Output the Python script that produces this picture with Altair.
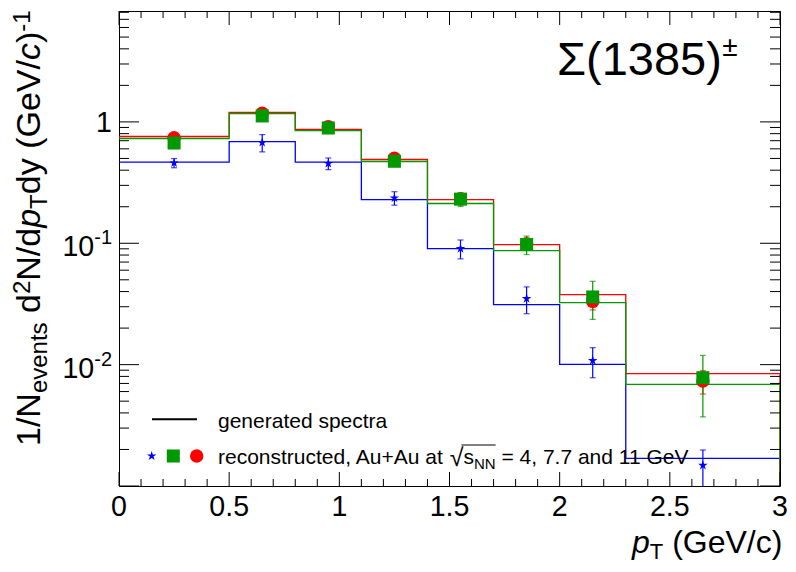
import altair as alt
import pandas as pd

FONT = "Liberation Sans"

# ---------------- data ----------------
bin_edges = [0.0, 0.5, 0.8, 1.1, 1.4, 1.7, 2.0, 2.3, 3.0]
pt_centers = [0.25, 0.65, 0.95, 1.25, 1.55, 1.85, 2.15, 2.65]

gen_red = [0.758, 1.195, 0.866, 0.490, 0.229, 0.0976, 0.0378, 0.00843]
gen_green = [0.730, 1.173, 0.849, 0.472, 0.2126, 0.0871, 0.0324, 0.00688]
gen_blue = [0.4654, 0.689, 0.4654, 0.229, 0.0904, 0.0312, 0.01006, 0.00169]

rec_red = [0.741, 1.18, 0.913, 0.502, 0.232, 0.099, 0.0332, 0.00732]
err_red = [0.01, 0.02, 0.015, 0.01, 0.006, 0.004, 0.005, 0.0016]
rec_green = [0.670, 1.12, 0.891, 0.474, 0.231, 0.0977, 0.0361, 0.00781]
err_green = [0.02, 0.03, 0.02, 0.015, 0.03, 0.017, 0.0125, 0.0041]
rec_blue = [0.459, 0.676, 0.454, 0.236, 0.0904, 0.035, 0.0108, 0.00148]
err_blue = [0.04, 0.11, 0.05, 0.03, 0.016, 0.0087, 0.003, 0.0005]

x_tick_values = [0, 0.5, 1, 1.5, 2, 2.5, 3]
x_tick_labels = ["0", "0.5", "1", "1.5", "2", "2.5", "3"]
y_tick_values = [1, 0.1, 0.01]
y_tick_base = ["1", "10", "10"]
y_tick_exp = ["", "-1", "-2"]

Y_MIN, Y_MAX = 0.001, 8.2
RED, GREEN, BLUE = "#ff0000", "#009900", "#0000ff"
STAR = ("M0,-1L0.223,-0.307L0.951,-0.309L0.361,0.117L0.588,0.809L0,0.38"
        "L-0.588,0.809L-0.361,0.117L-0.951,-0.309L-0.223,-0.307Z")

# ---------------- layout ----------------
W, H = 661, 475
PL, PT = 119, 11          # absolute position of the plot area
XS = alt.Scale(domain=[0, 3], nice=False, zero=False)
YS = alt.Scale(type="log", domain=[Y_MIN, Y_MAX], nice=False)
ONE = pd.DataFrame({"k": [0]})

AW = {" ": 278, "(": 333, ")": 333, "+": 584, ",": 278, "-": 333, ".": 278,
      "/": 278, "=": 584, "A": 667, "G": 778, "N": 722, "T": 611, "V": 667,
      "a": 556, "c": 500, "d": 556, "e": 556, "g": 556, "n": 556, "o": 556,
      "p": 556, "r": 333, "s": 500, "t": 278, "u": 556, "v": 500, "y": 500,
      "√": 549, "Σ": 604, "±": 584}


def tw(s, size):
    return sum(AW.get(ch, 556) for ch in s) * size / 1000.0


def T(s, ax, ay, size, align="left", angle=None, italic=False, color="black"):
    kw = dict(align=align, baseline="alphabetic", fontSize=size, font=FONT, color=color)
    if angle is not None:
        kw["angle"] = angle
    if italic:
        kw["fontStyle"] = "italic"
    return alt.Chart(ONE).mark_text(**kw).encode(
        x=alt.value(ax - PL), y=alt.value(ay - PT), text=alt.value(s))


layers = []

# ---------------- generated spectra (step histograms) ----------------
def step_df(vals):
    xs, ys, od = [], [], []
    o = 0
    for i, v in enumerate(vals):
        xs += [bin_edges[i], bin_edges[i + 1]]
        ys += [v, v]
        od += [o, o + 1]
        o += 2
    xs.append(bin_edges[-1]); ys.append(Y_MIN); od.append(o)
    return pd.DataFrame({"x": xs, "y": ys, "o": od})


for vals, col in [(gen_blue, BLUE), (gen_red, RED), (gen_green, GREEN)]:
    layers.append(alt.Chart(step_df(vals)).mark_line(color=col, strokeWidth=1.3, clip=True).encode(
        x=alt.X("x:Q", scale=XS, axis=None),
        y=alt.Y("y:Q", scale=YS, axis=None),
        order="o:Q"))

# ---------------- reconstructed points with error bars ----------------
def pts_df(vals, errs):
    return pd.DataFrame({"x": pt_centers, "y": vals,
                         "lo": [v - e for v, e in zip(vals, errs)],
                         "hi": [v + e for v, e in zip(vals, errs)]})


series = [(rec_red, err_red, RED, "circle", 180),
          (rec_green, err_green, GREEN, "square", 170),
          (rec_blue, err_blue, BLUE, STAR, 100)]
for vals, errs, col, shp, sz in series:
    d = pts_df(vals, errs)
    layers.append(alt.Chart(d).mark_rule(color=col, strokeWidth=1.2, clip=True).encode(
        x=alt.X("x:Q", scale=XS, axis=None),
        y=alt.Y("lo:Q", scale=YS, axis=None), y2="hi:Q"))
    for f in ["lo", "hi"]:
        layers.append(alt.Chart(d).mark_point(shape="stroke", size=36, color=col, strokeWidth=1.2,
                                              filled=False, clip=True).encode(
            x=alt.X("x:Q", scale=XS, axis=None),
            y=alt.Y(f + ":Q", scale=YS, axis=None)))
for vals, errs, col, shp, sz in series:
    d = pts_df(vals, errs)
    layers.append(alt.Chart(d).mark_point(shape=shp, size=sz, color=col, filled=True, opacity=1).encode(
        x=alt.X("x:Q", scale=XS, axis=None),
        y=alt.Y("y:Q", scale=YS, axis=None)))

# ---------------- axis ticks (inside the frame, ROOT style) ----------------
x_minor = [round(i * 0.1, 1) for i in range(31) if i % 5 != 0]
y_major = [0.001, 0.01, 0.1, 1]
y_minor = [m * 10 ** k for k in range(-3, 1) for m in range(2, 10) if m * 10 ** k < Y_MAX]

for vals, ln in [(x_tick_values, 14), (x_minor, 7)]:
    d = pd.DataFrame({"x": vals})
    layers.append(alt.Chart(d).mark_rule(color="black", strokeWidth=1).encode(
        x=alt.X("x:Q", scale=XS, axis=None), y=alt.value(H), y2=alt.value(H - ln)))
    layers.append(alt.Chart(d).mark_rule(color="black", strokeWidth=1).encode(
        x=alt.X("x:Q", scale=XS, axis=None), y=alt.value(0), y2=alt.value(ln)))
for vals, ln in [(y_major, 20), (y_minor, 10)]:
    d = pd.DataFrame({"y": vals})
    layers.append(alt.Chart(d).mark_rule(color="black", strokeWidth=1).encode(
        y=alt.Y("y:Q", scale=YS, axis=None), x=alt.value(0), x2=alt.value(ln)))
    layers.append(alt.Chart(d).mark_rule(color="black", strokeWidth=1).encode(
        y=alt.Y("y:Q", scale=YS, axis=None), x=alt.value(W), x2=alt.value(W - ln)))

# ---------------- tick labels ----------------
LBL = 28.6
layers.append(alt.Chart(pd.DataFrame({"x": x_tick_values, "t": x_tick_labels})).mark_text(
    align="center", baseline="alphabetic", fontSize=LBL, font=FONT, color="black").encode(
    x=alt.X("x:Q", scale=XS, axis=None), y=alt.value(516 - PT), text="t:N"))

ydf = pd.DataFrame({"y": y_tick_values, "b": y_tick_base, "e": y_tick_exp})
EXP = 20
exp_w = tw("-1", EXP)
layers.append(alt.Chart(ydf[ydf.e == ""]).mark_text(
    align="right", baseline="alphabetic", fontSize=LBL, font=FONT, color="black", dy=10).encode(
    y=alt.Y("y:Q", scale=YS, axis=None), x=alt.value(112 - PL), text="b:N"))
layers.append(alt.Chart(ydf[ydf.e != ""]).mark_text(
    align="right", baseline="alphabetic", fontSize=LBL, font=FONT, color="black", dy=13).encode(
    y=alt.Y("y:Q", scale=YS, axis=None), x=alt.value(112 - exp_w - PL), text="b:N"))
layers.append(alt.Chart(ydf[ydf.e != ""]).mark_text(
    align="left", baseline="alphabetic", fontSize=EXP, font=FONT, color="black", dy=1).encode(
    y=alt.Y("y:Q", scale=YS, axis=None), x=alt.value(112 - exp_w - PL), text="e:N"))

# ---------------- y-axis title (rotated, with sub/superscripts) ----------------
S, s = 34, 24
xb = 39.5
cur = 446.0
pieces = [("1/N", "m"), ("events", "sub"), (" d", "m"), ("2", "sup"), ("N/d", "m"),
          ("p", "mi"), ("T", "sub"), ("dy (GeV/", "m"), ("c", "mi"), (")", "m"), ("-1", "sup")]
for txt, kind in pieces:
    size = S if kind in ("m", "mi") else s
    xx = xb + (7.5 if kind == "sub" else (-9.5 if kind == "sup" else 0))
    lead = len(txt) - len(txt.lstrip(" "))
    start = cur - tw(" " * lead, size)
    layers.append(T(txt.strip(), xx, start, size, angle=270, italic=(kind == "mi")))
    cur -= tw(txt, size)

# ---------------- x-axis title ----------------
xt = 632
layers.append(T("p", xt, 553, 32, italic=True))
xt += tw("p", 32)
layers.append(T("T", xt, 559, 22))
xt += tw("T", 22) + tw(" ", 32)
layers.append(T("(GeV/c)", xt, 553, 32))

# ---------------- particle label ----------------
layers.append(T("Σ(1385)", 557, 75, 47))
layers.append(T("±", 557 + tw("Σ(1385)", 47) + 1, 56, 28))

# ---------------- legend ----------------
LS = 21
layers.append(alt.Chart(ONE).mark_rule(color="black", strokeWidth=2).encode(
    x=alt.value(152 - PL), x2=alt.value(197 - PL), y=alt.value(419.3 - PT)))
layers.append(T("generated spectra", 218, 428, LS))
for cx, col, shp, sz in [(151.7, BLUE, STAR, 100), (173.3, GREEN, "square", 170), (196.7, RED, "circle", 180)]:
    layers.append(alt.Chart(ONE).mark_point(shape=shp, size=sz, color=col, filled=True, opacity=1).encode(
        x=alt.value(cx - PL), y=alt.value(456 - PT)))
lx, lb = 218.0, 463.5
t1 = "reconstructed, Au+Au at "
layers.append(T(t1.strip(), lx, lb, LS))
lx += tw(t1, LS)
layers.append(T("√", lx, lb + 2, 25))
sq_end = lx + tw("√", 25)
lx = sq_end
layers.append(T("s", lx, lb, LS))
lx += tw("s", LS)
layers.append(T("NN", lx, lb + 5, 15))
lx += tw("NN", 15)
layers.append(alt.Chart(ONE).mark_rule(color="black", strokeWidth=1).encode(
    x=alt.value(sq_end - 2 - PL), x2=alt.value(lx - PL), y=alt.value(445 - PT)))
t2 = " = 4, 7.7 and 11 GeV"
layers.append(T(t2.strip(), lx + tw(" ", LS), lb, LS))

chart = alt.layer(*layers).properties(
    width=W, height=H,
    autosize=alt.AutoSizeParams(type="none"),
    padding={"left": PL - 8, "top": PT - 8, "right": 8, "bottom": 78},
    background="white",
).configure_view(stroke="black", strokeWidth=1)

chart.save("out.html", embed_options={"renderer": "svg", "actions": False})
